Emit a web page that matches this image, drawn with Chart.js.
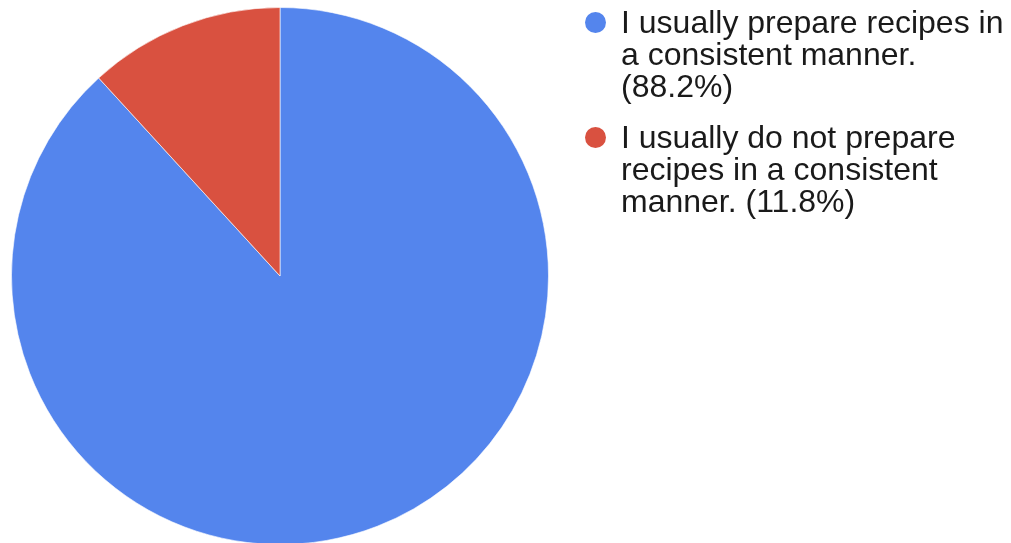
<!DOCTYPE html>
<html>
<head>
<meta charset="utf-8">
<script src="https://cdn.jsdelivr.net/npm/chart.js@4"></script>
<style>
  body { margin: 0; overflow: hidden; background: #fff; }
  #wrap { position: relative; width: 1011px; height: 543px; overflow: hidden; }
  #chart { position: absolute; left: 0; top: 0; }
  #legend { position: absolute; left: 585px; top: 6px; font-family: "Liberation Sans", Arial, sans-serif; font-size: 32px; line-height: 32px; color: #1a1a1a; }
  .item { position: relative; padding-left: 36px; margin-bottom: 19px; white-space: nowrap; }
  .dot { position: absolute; left: 0; top: 6px; width: 21px; height: 21px; border-radius: 50%; }
</style>
</head>
<body>
<div id="wrap">
  <canvas id="chart" width="1011" height="545"></canvas>
  <div id="legend"></div>
</div>
<script>
// Datos del gráfico
const labels = [
  "I usually prepare recipes in a consistent manner.",
  "I usually do not prepare recipes in a consistent manner.",
];
const values = [88.2, 11.8];
const colors = ["#5485ED", "#D95140"];
// Líneas del texto de la leyenda, tal como se ven en la imagen
const legendLines = [
  ["I usually prepare recipes in", "a consistent manner.", "(88.2%)"],
  ["I usually do not prepare", "recipes in a consistent", "manner. (11.8%)"],
];

document.addEventListener("DOMContentLoaded", function () {
  const ctx = document.getElementById("chart").getContext("2d");

  new Chart(ctx, {
    type: "pie",
    data: {
      labels: labels,
      datasets: [
        {
          data: values,
          backgroundColor: colors,
          borderColor: "rgba(255, 255, 255, 0.6)",
          borderWidth: 1,
          hoverOffset: 0,
          offset: 0,
        },
      ],
    },
    options: {
      responsive: false,
      animation: false,
      layout: {
        padding: { left: 11, right: 462, top: 7, bottom: 0 },
      },
      plugins: {
        legend: { display: false },
        tooltip: { enabled: false },
      },
    },
  });

  // Leyenda en HTML
  const legend = document.getElementById("legend");
  legendLines.forEach((lines, i) => {
    const item = document.createElement("div");
    item.className = "item";
    const dot = document.createElement("span");
    dot.className = "dot";
    dot.style.background = colors[i];
    item.appendChild(dot);
    const text = document.createElement("div");
    text.innerHTML = lines.join("<br>");
    item.appendChild(text);
    legend.appendChild(item);
  });
});
</script>
</body>
</html>
